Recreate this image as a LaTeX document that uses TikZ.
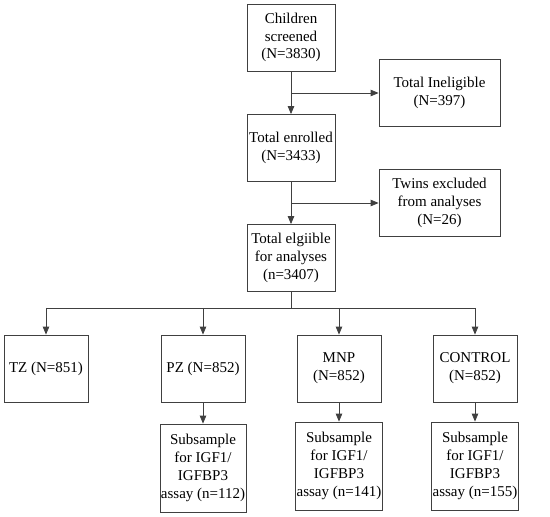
\documentclass[tikz,border=0pt]{standalone}
\usepackage{fontspec}
\setmainfont{Liberation Serif}
\usetikzlibrary{arrows.meta}

\begin{document}
\begin{tikzpicture}[x=1pt, y=-1pt,
    box/.style={draw=black!75, line width=0.8pt, align=center, inner sep=1pt,
                minimum width=84pt, minimum height=67pt,
                font=\fontsize{15}{17.8}\selectfont},
    wide/.style={box, minimum width=121pt},
    tall/.style={box, minimum height=88pt},
    arr/.style={draw=black!75, line width=0.8pt, -{Triangle[length=8pt, width=6.5pt]}},
    link/.style={draw=black!75, line width=0.8pt}]
    \useasboundingbox (0,0) rectangle (550,517);

    % Main column
    \node[box, minimum width=88pt] (screen) at (291,37.5) {Children\\screened\\(N=3830)};
    \node[box, minimum width=88pt] (enrol) at (291,148) {Total enrolled\\(N=3433)};
    \node[box, minimum width=88pt] (elig) at (291,258) {Total elgiible\\for analyses\\(n=3407)};

    % Exclusions on the right
    \node[wide] (inelig) at (439.5,93) {Total Ineligible\\(N=397)};
    \node[wide] (twins) at (439.5,203) {Twins excluded\\from analyses\\(N=26)};

    % Study arms
    \node[box] (tz) at (46,368.5) {TZ (N=851)};
    \node[box] (pz) at (203,368.5) {PZ (N=852)};
    \node[box] (mnp) at (339,368.5) {MNP\\(N=852)};
    \node[box] (ctrl) at (475,368.5) {CONTROL\\(N=852)};

    % Subsamples
    \node[tall] (subpz) at (203,468) {Subsample\\for IGF1/\\IGFBP3\\assay (n=112)};
    \node[tall] (submnp) at (339,466) {Subsample\\for IGF1/\\IGFBP3\\assay (n=141)};
    \node[tall] (subctrl) at (475,466) {Subsample\\for IGF1/\\IGFBP3\\assay (n=155)};

    % Flow down the main column
    \draw[arr] (screen) -- (enrol);
    \draw[arr] (screen |- inelig.west) -- (inelig.west);
    \draw[arr] (enrol) -- (elig);
    \draw[arr] (enrol |- twins.west) -- (twins.west);

    % Split into the four arms
    \draw[link] (elig.south) -- ++(0,16) coordinate (split);
    \draw[link] (split -| tz) -- (split -| ctrl);
    \foreach \arm in {tz, pz, mnp, ctrl}
        \draw[arr] (split -| \arm) -- (\arm.north);

    % Arms to subsamples
    \draw[arr] (pz) -- (subpz);
    \draw[arr] (mnp) -- (submnp);
    \draw[arr] (ctrl) -- (subctrl);
\end{tikzpicture}
\end{document}
